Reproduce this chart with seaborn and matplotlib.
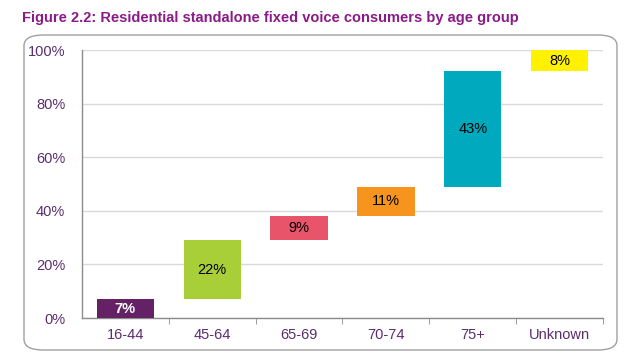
import numpy as np
import pandas as pd
import matplotlib
matplotlib.use('Agg')
import matplotlib.pyplot as plt
from matplotlib.patches import FancyBboxPatch
from matplotlib.ticker import FixedLocator, PercentFormatter
import seaborn as sns

# data
age_groups = ['16-44', '45-64', '65-69', '70-74', '75+', 'Unknown']
shares = [7, 22, 9, 11, 43, 8]
bar_colors = ['#642166', '#A9CF38', '#E8546A', '#F7941D', '#00A9BD', '#FFF100']
label_colors = ['white', 'black', 'black', 'black', 'black', 'black']

bottoms = np.concatenate([[0], np.cumsum(shares)[:-1]])
df = pd.DataFrame({'age': age_groups, 'share': shares})

sns.set_style('white')
plt.rcParams['font.family'] = ['Liberation Sans', 'DejaVu Sans']

fig = plt.figure(figsize=(6.43, 3.58), dpi=100)
ax = fig.add_axes([0.1275, 0.1117, 0.8103, 0.7486])

# rounded frame around the chart
frame = FancyBboxPatch((24 / 643, 8 / 358), 593 / 643, 315 / 358,
                       boxstyle='round,pad=0,rounding_size=0.03',
                       transform=fig.transFigure, facecolor='none',
                       edgecolor='#A0A0A0', linewidth=1.0, zorder=0)
fig.patches.append(frame)

sns.barplot(data=df, x='age', y='share', bottom=bottoms, width=0.66,
            color='grey', ax=ax, zorder=3, linewidth=0)

for patch, c, lc, val, b in zip(ax.patches, bar_colors, label_colors, shares, bottoms):
    patch.set_facecolor(c)
    patch.set_edgecolor(c)
    x = patch.get_x() + patch.get_width() / 2
    ax.text(x, b + val / 2, f'{val}%', ha='center', va='center',
            color=lc, fontsize=10.5,
            fontweight='bold' if lc == 'white' else 'normal', zorder=4)

ax.set_ylim(0, 100)
ax.set_xlim(-0.5, len(age_groups) - 0.5)
ax.yaxis.set_major_locator(FixedLocator([0, 20, 40, 60, 80, 100]))
ax.yaxis.set_major_formatter(PercentFormatter(decimals=0))
ax.grid(axis='y', color='#D9D9D9', linewidth=1, zorder=0)
ax.set_axisbelow(True)

for s in ['top', 'right']:
    ax.spines[s].set_visible(False)
for s in ['left', 'bottom']:
    ax.spines[s].set_color('#8C8C8C')
    ax.spines[s].set_linewidth(1)

ax.set_xticks(np.arange(len(age_groups)), age_groups)
ax.xaxis.set_minor_locator(FixedLocator(np.arange(0.5, len(age_groups), 1)))
ax.tick_params(axis='x', which='major', length=0, pad=7, labelsize=10.5,
               labelcolor='#5C2D6E')
ax.tick_params(axis='x', which='minor', length=4, color='#8C8C8C', direction='out')
ax.tick_params(axis='y', length=4, color='#8C8C8C', direction='out', pad=8,
               labelsize=10.5, labelcolor='#5C2D6E')
ax.tick_params(axis='x', which='minor', bottom=True)
ax.set_xlabel('')
ax.set_ylabel('')

fig.text(22 / 643, 1 - 18 / 358, 'Figure 2.2: Residential standalone fixed voice consumers by age group',
         ha='left', va='center', fontsize=10.5, fontweight='bold', color='#8B1A89')

fig.savefig('out.png', dpi=100)
